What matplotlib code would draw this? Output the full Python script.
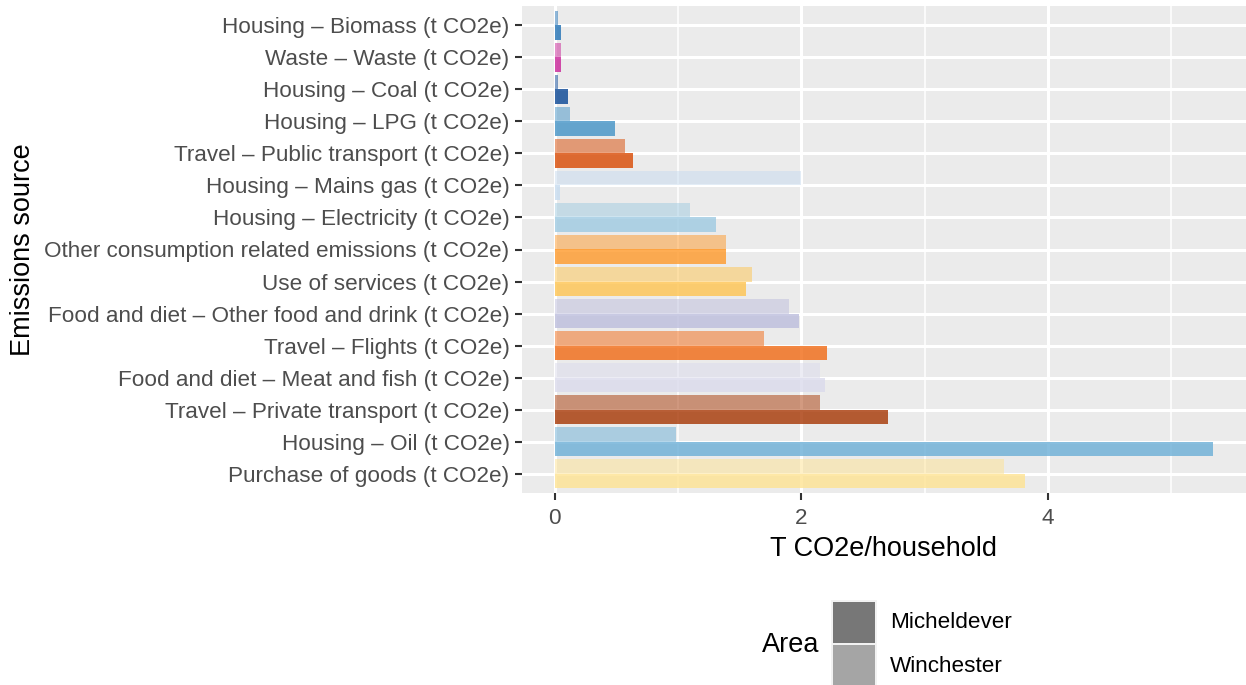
import numpy as np
import matplotlib
matplotlib.use("Agg")
import matplotlib.pyplot as plt
from matplotlib.patches import Rectangle

plt.rcParams['font.family'] = ['Liberation Sans', 'DejaVu Sans']

# data (bottom to top)
categories = [
    "Purchase of goods (t CO2e)",
    "Housing – Oil (t CO2e)",
    "Travel – Private transport (t CO2e)",
    "Food and diet – Meat and fish (t CO2e)",
    "Travel – Flights (t CO2e)",
    "Food and diet – Other food and drink (t CO2e)",
    "Use of services (t CO2e)",
    "Other consumption related emissions (t CO2e)",
    "Housing – Electricity (t CO2e)",
    "Housing – Mains gas (t CO2e)",
    "Travel – Public transport (t CO2e)",
    "Housing – LPG (t CO2e)",
    "Housing – Coal (t CO2e)",
    "Waste – Waste (t CO2e)",
    "Housing – Biomass (t CO2e)",
]
micheldever = [3.81, 5.34, 2.70, 2.19, 2.21, 1.98, 1.55, 1.385, 1.31, 0.04, 0.63, 0.49, 0.11, 0.05, 0.05]
winchester = [3.64, 0.98, 2.15, 2.15, 1.70, 1.90, 1.60, 1.385, 1.10, 2.00, 0.57, 0.12, 0.025, 0.05, 0.025]
colours = ["#fee391", "#6baed6", "#a63603", "#dadaeb", "#f16913", "#bcbddc", "#fec44f",
           "#fe9929", "#9ecae1", "#c6dbef", "#d94801", "#4292c6", "#084594", "#c92297", "#2171b5"]

fig = plt.figure(figsize=(12.46, 6.85), dpi=100)
ax = fig.add_axes([522/1246, 1 - 493/685, 1 - 522/1246, (493 - 6)/685])
ax.set_facecolor("#ebebeb")

y = np.arange(len(categories))
h = 0.45
ax.barh(y - h/2, micheldever, height=h, color=colours, alpha=0.8, zorder=3)
ax.barh(y + h/2, winchester, height=h, color=colours, alpha=0.5, zorder=3)

xmax = max(micheldever)
ax.set_xlim(-0.05*xmax, 1.05*xmax)
ax.set_ylim(-0.6, len(categories) - 0.4)

ax.set_xticks([0, 2, 4])
ax.set_xticks([1, 3, 5], minor=True)
ax.set_yticks(y)
ax.set_yticklabels(categories)
ax.grid(True, which="major", color="white", linewidth=2.2, zorder=0)
ax.grid(True, which="minor", axis="x", color="white", linewidth=1.1, zorder=0)
ax.set_axisbelow(True)
for s in ax.spines.values():
    s.set_visible(False)
ax.tick_params(axis="both", which="major", length=5, width=1.5, color="#333333",
               labelcolor="#4d4d4d", labelsize=16.2, pad=4)
ax.tick_params(axis="x", which="major", pad=6)
ax.tick_params(axis="y", which="minor", left=False)
ax.tick_params(axis="x", which="minor", bottom=False)

ax.set_xlabel("T CO2e/household", fontsize=19.5, color="black", labelpad=5)
ax.set_ylabel("Emissions source", fontsize=19.5, color="black", labelpad=6)

# legend
fig.text(762/1246, 1 - 645/685, "Area", fontsize=19.5, ha="left", va="center")
fig.patches.append(Rectangle((831/1246, 0), 46/1246, 85/685, transform=fig.transFigure,
                             facecolor="#f2f2f2", edgecolor="none", figure=fig))
for i, (lab, a) in enumerate([("Micheldever", 0.8), ("Winchester", 0.5)]):
    top = 602 + i*43
    fig.patches.append(Rectangle((833/1246, 1 - (top + 41)/685), 42/1246, 41/685,
                                 transform=fig.transFigure, facecolor="#595959",
                                 alpha=a, edgecolor="none", figure=fig))
    fig.text(890/1246, 1 - (top + 21)/685, lab, fontsize=16.2, ha="left", va="center")

fig.savefig("out.png", dpi=100)
